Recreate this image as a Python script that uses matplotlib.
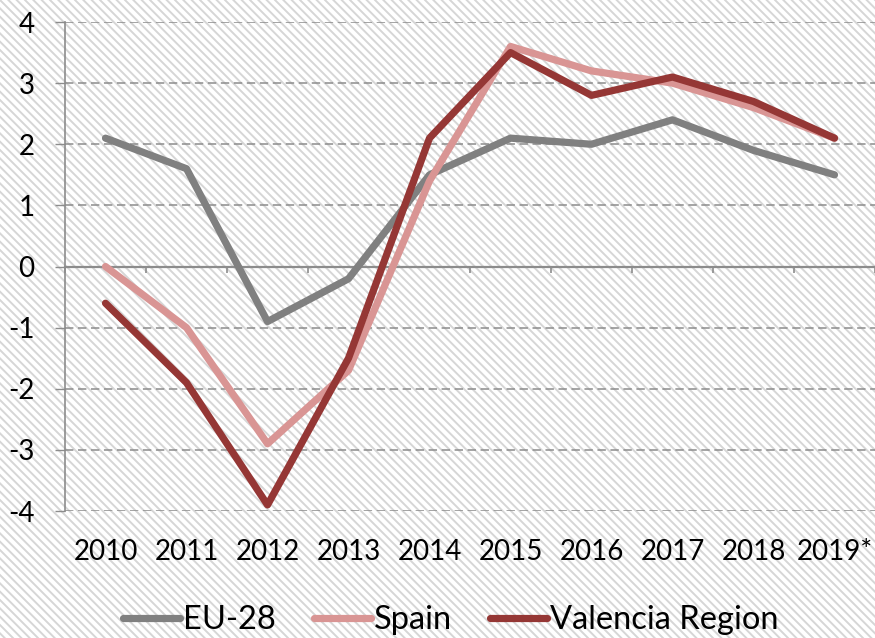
import matplotlib
matplotlib.use("Agg")
import matplotlib.pyplot as plt
from matplotlib.patches import Rectangle
import numpy as np

# ── data ──────────────────────────────────────────────────────────────────
YEARS    = ["2010", "2011", "2012", "2013", "2014",
            "2015", "2016", "2017", "2018", "2019*"]
EU28     = [2.1, 1.6, -0.9, -0.2, 1.5, 2.1, 2.0, 2.4, 1.9, 1.5]
SPAIN    = [0.0, -1.0, -2.9, -1.7, 1.4, 3.6, 3.2, 3.0, 2.6, 2.1]
VALENCIA = [-0.6, -1.9, -3.9, -1.5, 2.1, 3.5, 2.8, 3.1, 2.7, 2.1]
Y_TICKS  = [-4, -3, -2, -1, 0, 1, 2, 3, 4]

# ── colours ───────────────────────────────────────────────────────────────
GREY   = "#808080"
PINK   = "#D99594"
MAROON = "#953735"
AXIS   = "#8C8C8C"
STRIPE = "#D6D6D6"

plt.rcParams["font.family"] = ["Lato", "DejaVu Sans"]
plt.rcParams["hatch.linewidth"] = 1.4

fig = plt.figure(figsize=(8.75, 6.38), dpi=100)
fig.patch.set_facecolor("white")
# diagonal striped background
bg = Rectangle((0, 0), 1, 1, transform=fig.transFigure, facecolor="white",
               edgecolor=STRIPE, hatch="\\" * 4, linewidth=0, zorder=-10)
fig.patches.append(bg)

ax = fig.add_axes([0.0743, 0.199, 0.9257, 0.7665])
ax.set_facecolor("none")

x = np.arange(len(YEARS))
for vals, col, lab in [(EU28, GREY, "EU-28"),
                       (SPAIN, PINK, "Spain"),
                       (VALENCIA, MAROON, "Valencia Region")]:
    ax.plot(x, vals, color=col, linewidth=5.2, label=lab,
            solid_capstyle="round", solid_joinstyle="round", zorder=3)

ax.set_xlim(-0.5, len(YEARS) - 0.5)
ax.set_ylim(-4, 4)
ax.set_yticks(Y_TICKS)
ax.set_yticklabels([str(v) for v in Y_TICKS])
ax.tick_params(axis="y", length=7, width=1, color=AXIS, pad=15,
               labelsize=20, labelcolor="black")
ax.yaxis.grid(True, color=AXIS, linewidth=1.1, linestyle=(0, (5.5, 3)))
ax.set_axisbelow(True)

for s in ["top", "right"]:
    ax.spines[s].set_visible(False)
ax.spines["left"].set_color(AXIS)
ax.spines["left"].set_linewidth(1.2)
# horizontal axis line sits at zero, tick marks between categories
ax.spines["bottom"].set_position(("data", 0))
ax.spines["bottom"].set_color(AXIS)
ax.spines["bottom"].set_linewidth(1.6)
ax.set_xticks(x)
ax.set_xticklabels([])
ax.tick_params(axis="x", which="major", length=0)
ax.set_xticks(np.arange(len(YEARS) + 1) - 0.5, minor=True)
ax.tick_params(axis="x", which="minor", length=4.5, width=1.2, color=AXIS,
               direction="out")

# category labels placed low, below the plot
sec = ax.secondary_xaxis("bottom")
sec.set_xticks(x)
sec.set_xticklabels(YEARS)
sec.spines["bottom"].set_visible(False)
sec.tick_params(length=0, pad=20, labelsize=20)

fig.legend(loc="center", bbox_to_anchor=(0.515, 0.028), ncol=3, frameon=False,
           fontsize=23.5, handlelength=1.75, handletextpad=0.1,
           columnspacing=1.15)

fig.savefig("out.png", dpi=100)
